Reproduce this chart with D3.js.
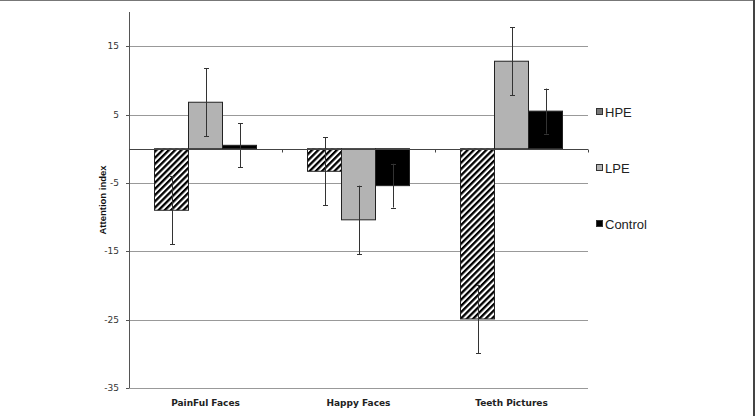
<!DOCTYPE html>
<html>
<head>
<meta charset="utf-8">
<style>
       body { margin: 0; background: #fff; }
       svg { display: block; }
       .tick-label { font-family: "DejaVu Sans"; font-size: 9px; fill: #333; text-anchor: end; }
       .cat-label { font-family: "DejaVu Sans"; font-weight: bold; font-size: 9px; fill: #222; text-anchor: middle; }
       .axis-title { font-family: "Liberation Sans"; font-weight: bold; font-size: 9.5px; fill: #111; text-anchor: middle; }
       .legend-label { font-family: "Liberation Sans"; font-size: 13px; fill: #222; }
</style>
</head>
<body>
<script src="https://cdn.jsdelivr.net/npm/d3@7"></script>
<script>

    var categories = ["PainFul Faces", "Happy Faces", "Teeth Pictures"],
        series = ["HPE", "LPE", "Control"],
        hpeValues = [-9.0, -3.3, -24.9],
        lpeValues = [6.8, -10.4, 12.8],
        controlValues = [0.5, -5.4, 5.5],
        hpeErrors = [5.0, 5.0, 5.0],
        lpeErrors = [5.0, 5.0, 5.0],
        controlErrors = [3.2, 3.2, 3.3],
        yTicks = [-35, -25, -15, -5, 5, 15];

    var width = 755,
        height = 416,
        plotLeft = 129,
        plotRight = 588,
        plotTop = 12,
        plotBottom = 388;

    var svg = d3.select("body").append("svg")
        .attr("width", width)
        .attr("height", height);

    // hatch pattern for HPE
    var defs = svg.append("defs");
    var pat = defs.append("pattern")
        .attr("id", "hatch")
        .attr("patternUnits", "userSpaceOnUse")
        .attr("width", 4.4)
        .attr("height", 4.4)
        .attr("patternTransform", "rotate(45)");
    pat.append("rect").attr("width", 4.4).attr("height", 4.4).attr("fill", "#fff");
    pat.append("rect").attr("width", 2.3).attr("height", 4.4).attr("fill", "#000");

    var y = d3.scaleLinear().domain([-35, 20]).range([plotBottom, plotTop]);
    var x = d3.scaleBand().domain(categories).range([plotLeft, plotRight]);
    var xSub = d3.scaleBand().domain(series)
        .range([x.bandwidth() / 6, x.bandwidth() * 5 / 6]);

    var fills = {HPE: "url(#hatch)", LPE: "#b3b3b3", Control: "#000"};

    var rows = [];
    categories.forEach(function(c, i) {
        rows.push({cat: c, s: "HPE", v: hpeValues[i], e: hpeErrors[i]});
        rows.push({cat: c, s: "LPE", v: lpeValues[i], e: lpeErrors[i]});
        rows.push({cat: c, s: "Control", v: controlValues[i], e: controlErrors[i]});
    });

    // gridlines
    svg.append("g").selectAll("line")
        .data(yTicks)
      .enter().append("line")
        .attr("x1", plotLeft).attr("x2", plotRight)
        .attr("y1", function(d) { return Math.round(y(d)) + 0.5; })
        .attr("y2", function(d) { return Math.round(y(d)) + 0.5; })
        .attr("stroke", "#999");

    // bars
    svg.append("g").selectAll("rect")
        .data(rows)
      .enter().append("rect")
        .attr("x", function(d) { return x(d.cat) + xSub(d.s); })
        .attr("y", function(d) { return y(Math.max(0, d.v)); })
        .attr("width", xSub.bandwidth())
        .attr("height", function(d) { return Math.abs(y(d.v) - y(0)); })
        .attr("fill", function(d) { return fills[d.s]; })
        .attr("stroke", "#222")
        .attr("stroke-width", 1);

    // error bars
    var err = svg.append("g").attr("stroke", "#333").attr("stroke-width", 1);
    rows.forEach(function(d) {
        var cx = Math.round(x(d.cat) + xSub(d.s) + xSub.bandwidth() / 2) + 0.5;
        err.append("line")
            .attr("x1", cx).attr("x2", cx)
            .attr("y1", y(d.v + d.e)).attr("y2", y(d.v - d.e));
        [d.v + d.e, d.v - d.e].forEach(function(t) {
            err.append("line")
                .attr("x1", cx - 2.5).attr("x2", cx + 2.5)
                .attr("y1", Math.round(y(t)) + 0.5).attr("y2", Math.round(y(t)) + 0.5);
        });
    });

    // y axis
    var yAxis = svg.append("g")
        .attr("transform", "translate(" + plotLeft + ",0)");
    yAxis.append("line")
        .attr("x1", 0.5).attr("x2", 0.5)
        .attr("y1", plotTop).attr("y2", plotBottom)
        .attr("stroke", "#555");
    yAxis.selectAll(".tk")
        .data(yTicks)
      .enter().append("line")
        .attr("x1", -3).attr("x2", 0)
        .attr("y1", function(d) { return Math.round(y(d)) + 0.5; })
        .attr("y2", function(d) { return Math.round(y(d)) + 0.5; })
        .attr("stroke", "#555");
    yAxis.selectAll("text")
        .data(yTicks)
      .enter().append("text")
        .attr("class", "tick-label")
        .attr("x", -10)
        .attr("y", function(d) { return y(d) + 3; })
        .text(function(d) { return d; });

    // x axis at zero
    var zy = Math.round(y(0)) + 0.5;
    svg.append("line")
        .attr("x1", plotLeft).attr("x2", plotRight)
        .attr("y1", zy).attr("y2", zy)
        .attr("stroke", "#444");
    svg.append("g").selectAll("line")
        .data(categories)
      .enter().append("line")
        .attr("x1", function(d) { return Math.round(x(d) + x.bandwidth()) + 0.5; })
        .attr("x2", function(d) { return Math.round(x(d) + x.bandwidth()) + 0.5; })
        .attr("y1", zy).attr("y2", zy + 3)
        .attr("stroke", "#444");

    svg.append("g").selectAll("text")
        .data(categories)
      .enter().append("text")
        .attr("class", "cat-label")
        .attr("x", function(d) { return x(d) + x.bandwidth() / 2; })
        .attr("y", 406)
        .text(function(d) { return d; });

    svg.append("text")
        .attr("class", "axis-title")
        .attr("transform", "translate(106," + (plotTop + plotBottom) / 2 + ") rotate(-90)")
        .text("Attention index");

    // legend
    var legend = svg.append("g").attr("transform", "translate(596,112)");
    var items = legend.selectAll("g")
        .data(series)
      .enter().append("g")
        .attr("transform", function(d, i) { return "translate(0," + (i * 56) + ")"; });
    items.append("rect")
        .attr("x", 0.5).attr("y", -3.5)
        .attr("width", 6).attr("height", 6)
        .attr("fill", function(d) { return d == "HPE" ? "#777" : fills[d]; })
        .attr("stroke", "#333");
    items.append("text")
        .attr("class", "legend-label")
        .attr("x", 9)
        .attr("y", 5)
        .text(function(d) { return d; });

    // frame
    svg.append("line").attr("x1", 0).attr("x2", width).attr("y1", 0.5).attr("y2", 0.5)
        .attr("stroke", "#777");
    svg.append("line").attr("x1", width - 1).attr("x2", width - 1).attr("y1", 0).attr("y2", height)
        .attr("stroke", "#444").attr("stroke-width", 2);

</script>
</body>
</html>
